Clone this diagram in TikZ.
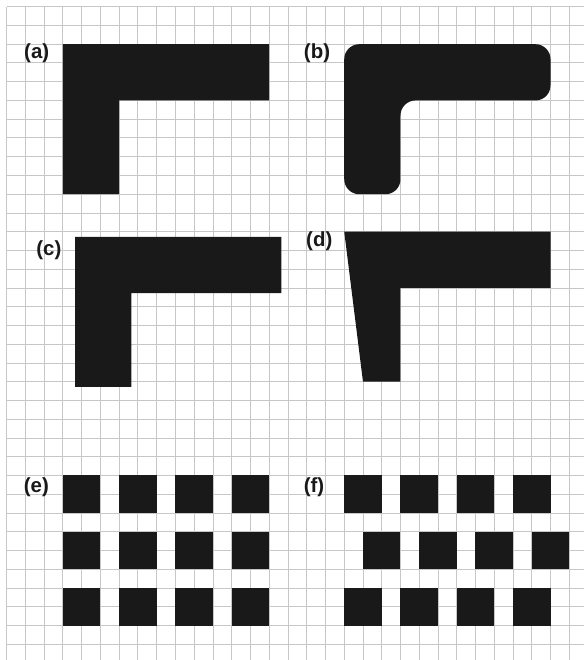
\documentclass[tikz,border=0pt]{standalone}
\usepackage{fontspec}
\setmainfont{Liberation Sans}
\definecolor{ink}{HTML}{191919}
\tikzset{
  gridline/.style={line width=0.7pt, draw=black!22},
  solid shape/.style={fill=ink},
  lbl/.style={font=\fontsize{15.5}{18}\selectfont\bfseries, text=black!90, inner sep=0pt}
}
\begin{document}
\begin{tikzpicture}[x=0.5cm,y=-0.5cm]

\useasboundingbox (-0.357,-0.357) rectangle (30.79,34.84);

% grid paper
\foreach \i in {0,...,30} \draw[gridline] (\i,0) -- (\i,34.84);
\foreach \j in {0,...,34} \draw[gridline] (0,\j) -- (30.79,\j);

% (a) on the grid
\fill[solid shape] (3,2) -- (14,2) -- (14,5) -- (6,5) -- (6,10) -- (3,10) -- cycle;

% (b) rounded corners
\fill[solid shape, rounded corners=0.4cm] (18,2) -- (29,2) -- (29,5) -- (21,5) -- (21,10) -- (18,10) -- cycle;

% (c) shifted off the grid
\fill[solid shape] (3.65,12.28) -- (14.65,12.28) -- (14.65,15.28) -- (6.65,15.28) -- (6.65,20.28) -- (3.65,20.28) -- cycle;

% (d) slanted edge
\fill[solid shape] (18,12) -- (29,12) -- (29,15) -- (21,15) -- (21,20) -- (19,20) -- cycle;

% (e) squares in line
\foreach \r in {0,1,2}
  \foreach \c in {0,1,2,3}
    \fill[solid shape] (3+3*\c,25+3*\r) rectangle ++(2,2);

% (f) middle row shifted
\foreach \r/\s in {0/0,1/1,2/0}
  \foreach \c in {0,1,2,3}
    \fill[solid shape] (18+\s+3*\c,25+3*\r) rectangle ++(2,2);

\node[lbl] (lblA) at (1.6,2.5) {(a)};
\node[lbl] (lblB) at (16.55,2.5) {(b)};
\node[lbl] (lblC) at (2.25,12.98) {(c)};
\node[lbl] (lblD) at (16.67,12.53) {(d)};
\node[lbl] (lblE) at (1.58,25.6) {(e)};
\node[lbl] (lblF) at (16.39,25.6) {(f)};

\end{tikzpicture}
\end{document}
